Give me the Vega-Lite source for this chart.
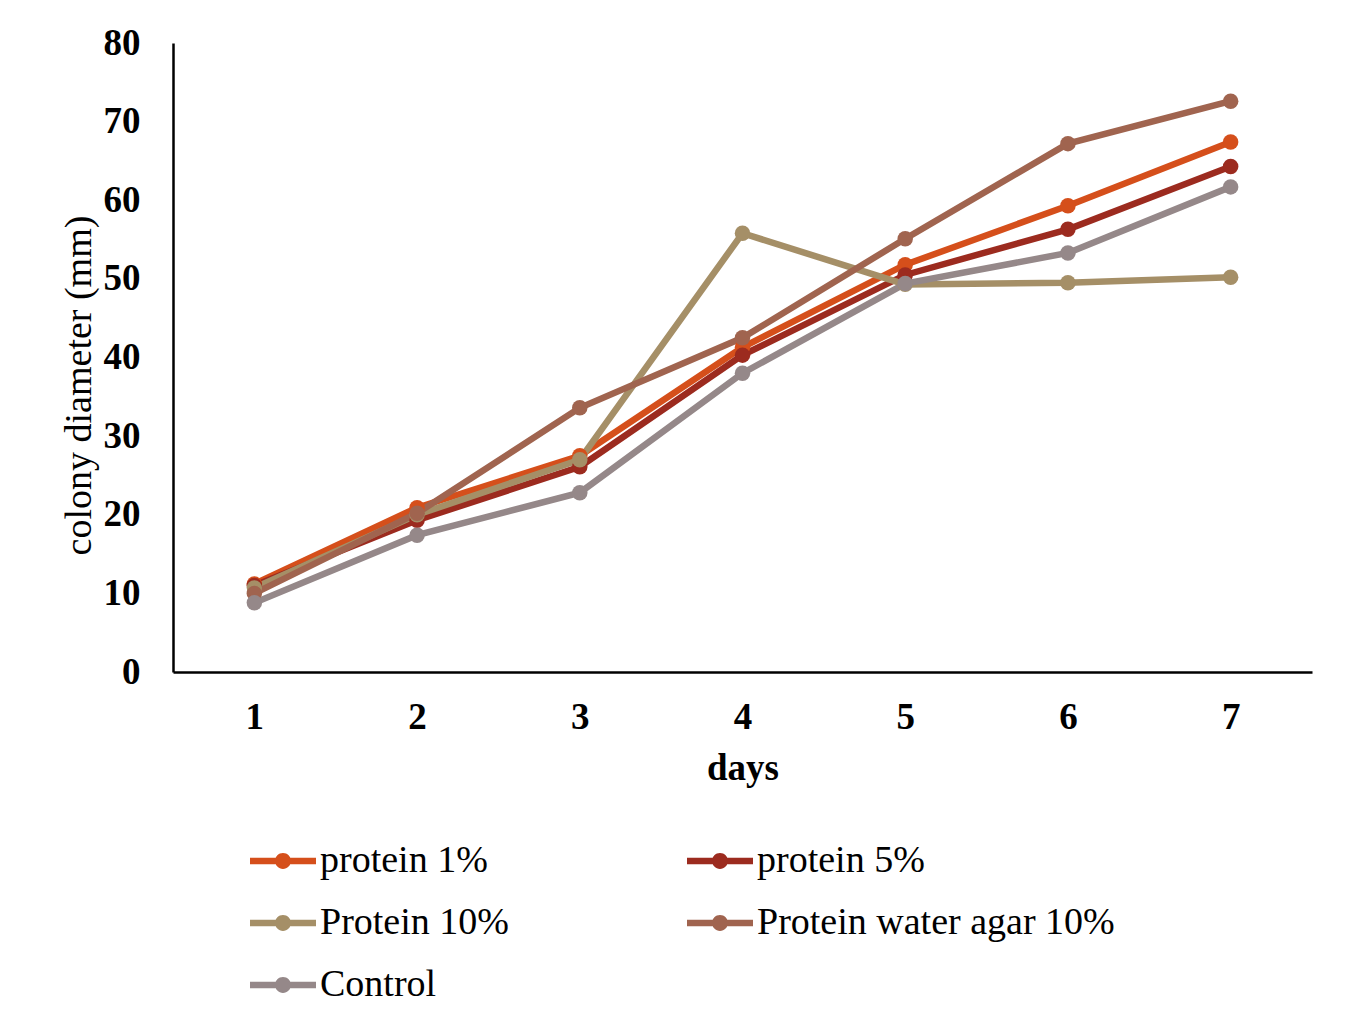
{
  "$schema": "https://vega.github.io/schema/vega-lite/v6.json",
  "width": 1139,
  "height": 629,
  "autosize": "none",
  "padding": {"left": 173, "top": 43, "right": 44, "bottom": 351},
  "background": "white",
  "config": {
    "view": {"stroke": null},
    "font": "Liberation Serif"
  },
  "data": {
    "values": [
      {"series": "protein 1%", "day": 1, "diameter": 11.2},
      {"series": "protein 1%", "day": 2, "diameter": 20.9},
      {"series": "protein 1%", "day": 3, "diameter": 27.5},
      {"series": "protein 1%", "day": 4, "diameter": 41.3},
      {"series": "protein 1%", "day": 5, "diameter": 51.8},
      {"series": "protein 1%", "day": 6, "diameter": 59.3},
      {"series": "protein 1%", "day": 7, "diameter": 67.4},
      {"series": "protein 5%", "day": 1, "diameter": 11.0},
      {"series": "protein 5%", "day": 2, "diameter": 19.3},
      {"series": "protein 5%", "day": 3, "diameter": 26.1},
      {"series": "protein 5%", "day": 4, "diameter": 40.3},
      {"series": "protein 5%", "day": 5, "diameter": 50.5},
      {"series": "protein 5%", "day": 6, "diameter": 56.3},
      {"series": "protein 5%", "day": 7, "diameter": 64.3},
      {"series": "Protein 10%", "day": 1, "diameter": 10.7},
      {"series": "Protein 10%", "day": 2, "diameter": 20.0},
      {"series": "Protein 10%", "day": 3, "diameter": 27.0},
      {"series": "Protein 10%", "day": 4, "diameter": 55.8},
      {"series": "Protein 10%", "day": 5, "diameter": 49.3},
      {"series": "Protein 10%", "day": 6, "diameter": 49.5},
      {"series": "Protein 10%", "day": 7, "diameter": 50.2},
      {"series": "Protein water agar 10%", "day": 1, "diameter": 10.0},
      {"series": "Protein water agar 10%", "day": 2, "diameter": 20.2},
      {"series": "Protein water agar 10%", "day": 3, "diameter": 33.6},
      {"series": "Protein water agar 10%", "day": 4, "diameter": 42.5},
      {"series": "Protein water agar 10%", "day": 5, "diameter": 55.1},
      {"series": "Protein water agar 10%", "day": 6, "diameter": 67.2},
      {"series": "Protein water agar 10%", "day": 7, "diameter": 72.6},
      {"series": "Control", "day": 1, "diameter": 8.8},
      {"series": "Control", "day": 2, "diameter": 17.4},
      {"series": "Control", "day": 3, "diameter": 22.8},
      {"series": "Control", "day": 4, "diameter": 38.0},
      {"series": "Control", "day": 5, "diameter": 49.4},
      {"series": "Control", "day": 6, "diameter": 53.3},
      {"series": "Control", "day": 7, "diameter": 61.7}
    ]
  },
  "encoding": {
    "x": {
      "field": "day",
      "type": "ordinal",
      "scale": {"type": "point", "padding": 0.5},
      "axis": {
        "title": "days",
        "labelAngle": 0,
        "ticks": false,
        "domainColor": "black",
        "domainWidth": 2.5,
        "labelFontSize": 37,
        "labelFontWeight": "bold",
        "labelColor": "black",
        "labelPadding": 27,
        "titleFontSize": 37,
        "titleFontWeight": "bold",
        "titleColor": "black",
        "titlePadding": 15
      }
    },
    "y": {
      "field": "diameter",
      "type": "quantitative",
      "scale": {"domain": [0, 80], "nice": false},
      "axis": {
        "title": "colony diameter (mm)",
        "values": [0, 10, 20, 30, 40, 50, 60, 70, 80],
        "grid": false,
        "ticks": false,
        "domainColor": "black",
        "domainWidth": 2.5,
        "labelFontSize": 37,
        "labelFontWeight": "bold",
        "labelColor": "black",
        "labelPadding": 33,
        "titleFontSize": 38,
        "titleFontWeight": "normal",
        "titleColor": "black",
        "titlePadding": 5,
        "titleY": 342
      }
    },
    "color": {
      "field": "series",
      "type": "nominal",
      "scale": {
        "domain": ["protein 1%", "protein 5%", "Protein 10%", "Protein water agar 10%", "Control"],
        "range": ["#D54F1B", "#9C2B1F", "#A58F67", "#A0644F", "#958889"]
      },
      "legend": {
        "title": null,
        "orient": "none",
        "direction": "horizontal",
        "legendX": 77,
        "legendY": 785,
        "columns": 2,
        "padding": 0,
        "symbolType": "M-1,-0.1L1,-0.1L1,0.1L-1,0.1Z M0.24,0 A0.24,0.24,0,1,1,-0.24,0 A0.24,0.24,0,1,1,0.24,0 Z",
        "symbolSize": 4356,
        "symbolStrokeWidth": 0,
        "labelFont": "Liberation Serif",
        "labelFontSize": 38,
        "labelColor": "black",
        "labelOffset": 4,
        "labelLimit": 600,
        "rowPadding": 10,
        "columnPadding": 178,
        "labelExpr": "datum.label == 'protein 1%' ? '\u00a0\u00a0protein 1%' : datum.label"
      }
    }
  },
  "layer": [
    {"mark": {"type": "line", "strokeWidth": 6.5}},
    {"mark": {"type": "point", "filled": true, "size": 240, "opacity": 1}}
  ]
}
